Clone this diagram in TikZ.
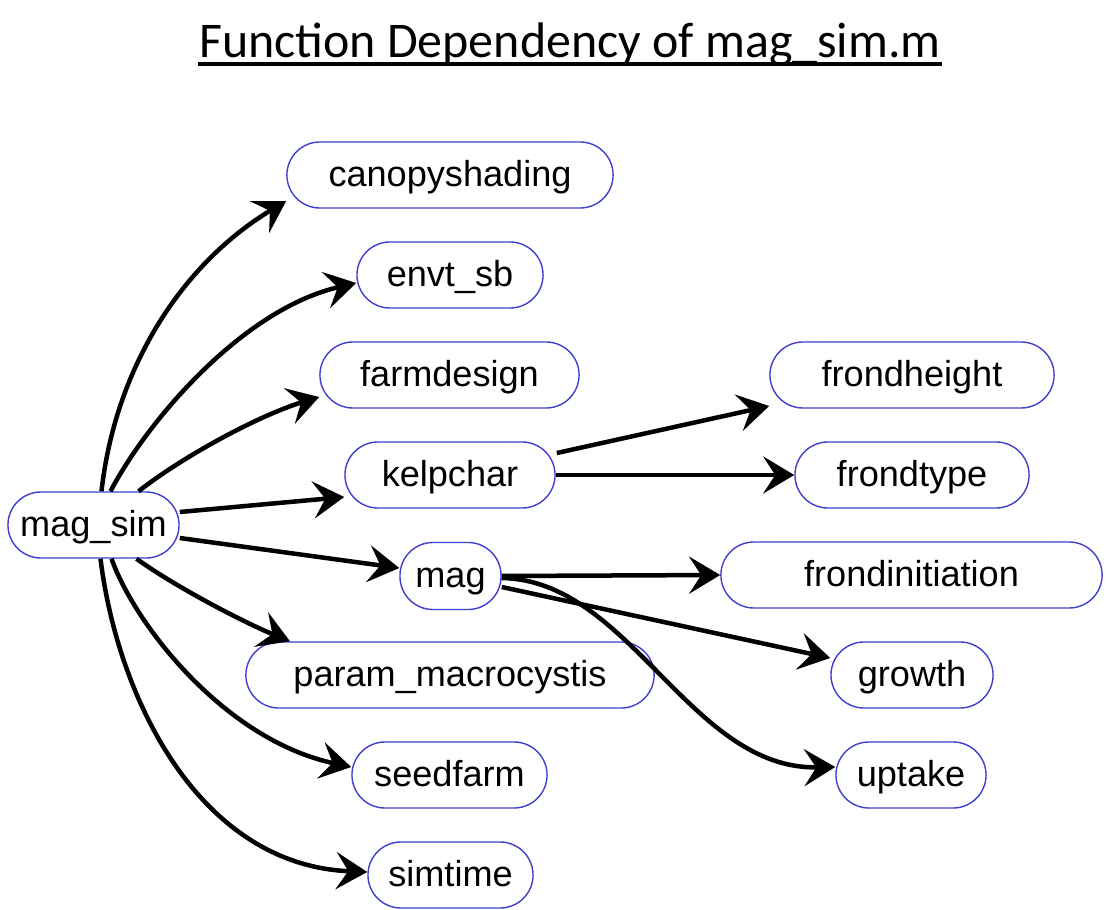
\documentclass[tikz,border=0pt]{standalone}
\usepackage{fontspec}
\setmainfont{Liberation Sans}
\newfontfamily\titlefont{Carlito}
\usetikzlibrary{arrows.meta,calc}
\definecolor{nodeblue}{RGB}{64,64,208}
\begin{document}
\begin{tikzpicture}[x=0.01cm,y=-0.01cm,
  fn/.style={draw=nodeblue, line width=0.4pt, rounded corners=0.33cm,
    minimum height=0.66cm, inner sep=0pt, fill=white,
    text height=0.30cm, text depth=0.066cm,
    font=\fontsize{10.27}{12}\selectfont},
  dep/.style={line width=0.045cm, black,
    -{Stealth[length=0.31cm,width=0.37cm,inset=0.12cm]}}]
\useasboundingbox (0,0) rectangle (1110,910);
% title
\node[anchor=base, inner sep=0pt, font=\titlefont\fontsize{14.2}{17}\selectfont] (title) at (570,57.5) {Function Dependency of mag\_sim.m};
\draw[line width=0.035cm] ($(title.base west)+(0,6.5)$) -- ($(title.base east)+(0,6.5)$);
% nodes
\node[fn, minimum width=1.71cm] (ms) at (93.5,525) {mag\_sim};
\node[fn, minimum width=3.26cm] (cs) at (450,175) {canopyshading};
\node[fn, minimum width=1.86cm] (ev) at (450,275) {envt\_sb};
\node[fn, minimum width=2.59cm] (fd) at (449.5,375) {farmdesign};
\node[fn, minimum width=2.10cm] (kc) at (450,475) {kelpchar};
\node[fn, minimum width=1.01cm, minimum height=0.67cm] (mg) at (450.5,576) {mag};
\node[fn, minimum width=4.08cm] (pm) at (450,675) {param\_macrocystis};
\node[fn, minimum width=1.95cm] (sf) at (449.5,775) {seedfarm};
\node[fn, minimum width=1.65cm] (st) at (450.5,875) {simtime};
\node[fn, minimum width=2.84cm] (fh) at (912,375) {frondheight};
\node[fn, minimum width=2.34cm] (ft) at (912,475) {frondtype};
\node[fn, minimum width=3.81cm] (fi) at (911.5,575) {frondinitiation};
\node[fn, minimum width=1.62cm] (gr) at (912,675) {growth};
\node[fn, minimum width=1.50cm] (up) at (911,775) {uptake};
% edges from mag_sim
\draw[dep] ($(ms.north)+(8,0)$) .. controls (115,370) and (180,265) .. ($(cs.west)+(0,26)$);
\draw[dep] ($(ms.north)+(17,0)$) .. controls (145,425) and (240,310) .. ($(ev.west)+(0,8)$);
\draw[dep] ($(ms.north)+(45,0)$) .. controls (185,455) and (260,415) .. ($(fd.west)+(0,22)$);
\draw[dep] ($(ms.east)+(0,-13)$) -- ($(kc.west)+(0,22)$);
\draw[dep] ($(ms.east)+(0,13)$) -- ($(mg.west)+(0,-8)$);
\draw[dep] ($(ms.south)+(43,0)$) .. controls (180,590) and (250,625) .. ($(pm.north)+(-160,0)$);
\draw[dep] ($(ms.south)+(18,0)$) .. controls (135,625) and (225,740) .. ($(sf.west)+(0,-8)$);
\draw[dep] ($(ms.south)+(7,0)$) .. controls (118,700) and (200,865) .. ($(st.west)+(0,-3)$);
% edges from kelpchar
\draw[dep] ($(kc.east)+(1,-22)$) -- ($(fh.west)+(0,31)$);
\draw[dep] (kc.east) -- (ft.west);
% edges from mag
\draw[dep] (mg.east) -- (fi.west);
\draw[dep] ($(mg.east)+(0,11)$) -- ($(gr.west)+(0,-17)$);
\draw[dep] ($(mg.east)+(0,2)$) .. controls (630,580) and (690,770) .. ($(up.west)+(0,-8)$);
\end{tikzpicture}
\end{document}
